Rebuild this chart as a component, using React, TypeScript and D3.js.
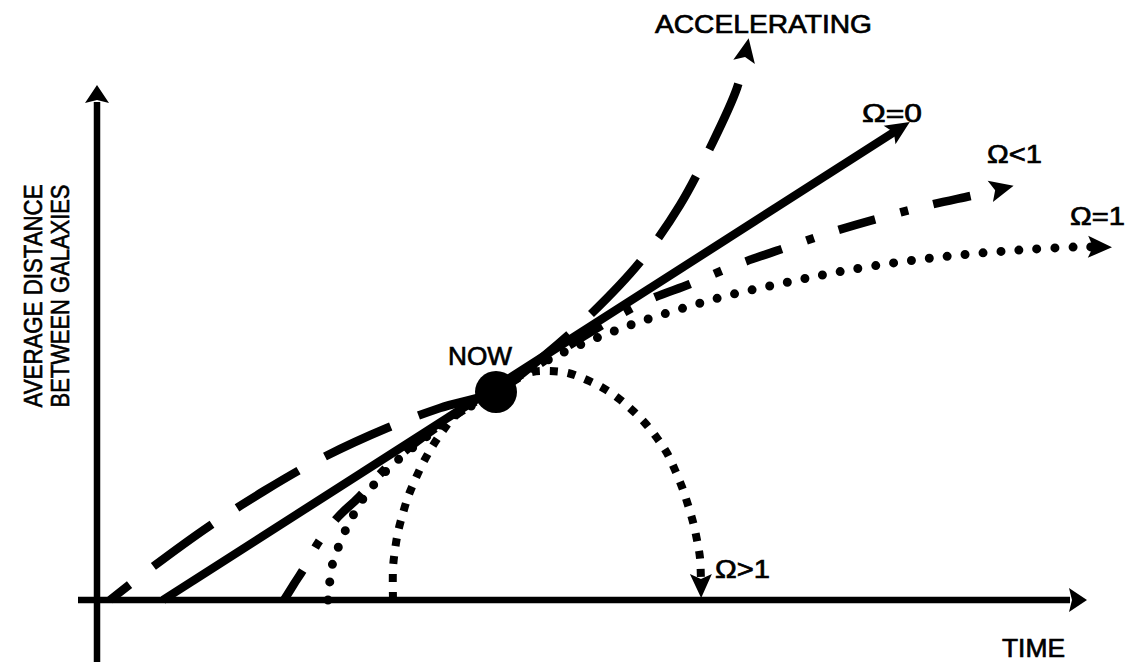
import React from "react";
import * as d3 from "d3";

type P = [number, number];

// time (x) / average distance (y) in arbitrary units
const accelerating: P[] = [
  [1.3, 0], [5.3, 3.1], [11.1, 7.3], [16.7, 10.9], [22.3, 14.1], [29.0, 17.2],
  [34.3, 19.2], [39.9, 20.9], [44.8, 24.5], [49.3, 28.5], [54.3, 33.8],
  [58.3, 39.5], [61.3, 45.2], [64.0, 51.2], [64.9, 54.8],
];

const omegaZero: P[] = [[6.6, 0], [80.1, 47.05]];

const omegaLess: P[] = [
  [18.7, 0], [19.7, 1.6], [20.6, 3.0], [22.1, 5.7], [24.1, 8.3], [26.1, 10.2],
  [28.3, 12.6], [30.8, 14.9], [34.3, 17.5], [37.3, 19.4], [39.9, 20.8],
  [46.3, 24.9], [54.5, 29.7], [59.3, 31.6], [63.9, 33.5], [68.8, 35.2],
  [73.5, 36.8], [78.3, 38.2], [83.3, 39.5], [87.8, 40.5], [90.3, 41.1],
];

const omegaOne: P[] = [
  [23.1, 0], [23.3, 2.0], [23.6, 3.8], [24.3, 5.7], [25.0, 7.3], [25.8, 8.8],
  [26.8, 10.4], [28.0, 11.9], [29.3, 13.3], [30.8, 14.6], [32.8, 16.2],
  [35.3, 18.2], [37.8, 19.6], [39.9, 20.8], [43.8, 23.3], [47.6, 25.2],
  [52.8, 27.3], [58.0, 29.0], [63.3, 30.5], [68.7, 31.7], [74.1, 32.8],
  [80.3, 33.8], [86.3, 34.5], [92.3, 35.0], [98.0, 35.3], [100.1, 35.3],
];

const omegaMore: P[] = [
  [29.6, 0], [29.6, 3.2], [29.8, 5.0], [30.1, 6.8], [30.6, 8.7], [31.1, 10.3],
  [31.8, 12.0], [32.6, 13.7], [33.5, 15.3], [34.5, 16.8], [35.6, 18.2],
  [37.5, 19.6], [39.9, 21.0], [41.8, 22.2], [43.5, 22.8], [45.3, 22.9],
  [47.1, 22.7], [49.0, 22.0], [50.6, 21.2], [52.1, 20.2], [53.5, 19.0],
  [54.8, 17.7], [56.0, 16.2], [57.0, 14.7], [57.8, 13.0], [58.5, 11.3],
  [59.1, 9.5], [59.6, 7.8], [60.0, 6.0], [60.3, 4.2], [60.4, 1.6],
];

const nowPoint: P = [39.9, 20.8];

const xAxisExtent = [-1.9, 97.3];
const yAxisExtent = [-6.2, 49.8];

const labels = [
  { text: "ACCELERATING", t: 55.8, d: 56.7, w: 217 },
  { text: "Ω=0", t: 76.5, d: 47.8, w: 60 },
  { text: "Ω<1", t: 89.0, d: 43.7, w: 55 },
  { text: "Ω=1", t: 97.3, d: 37.5, w: 55 },
  { text: "Ω>1", t: 61.8, d: 2.2, w: 55 },
  { text: "NOW", t: 35.1, d: 23.5, w: 64 },
  { text: "TIME", t: 90.5, d: -5.7, w: 63 },
];

const yLabelLines = ["AVERAGE DISTANCE", "BETWEEN GALAXIES"];

const xScale = d3.scaleLinear().domain([0, 100]).range([97, 1097]);
const yScale = d3.scaleLinear().domain([0, 60]).range([600, 0]);

const curve = d3
  .line<P>()
  .x((d) => xScale(d[0]))
  .y((d) => yScale(d[1]))
  .curve(d3.curveCatmullRom.alpha(0.5));

const straight = d3
  .line<P>()
  .x((d) => xScale(d[0]))
  .y((d) => yScale(d[1]));

const FONT = "'Liberation Sans', Arial, Helvetica, sans-serif";

export default function App() {
  return (
    <svg
      width={1129}
      height={664}
      style={{ position: "absolute", left: 0, top: 0, background: "#fff" }}
    >
      <defs>
        <marker
          id="arrow"
          markerUnits="userSpaceOnUse"
          viewBox="-5 -15 40 30"
          markerWidth={40}
          markerHeight={30}
          refX={10}
          refY={0}
          orient="auto"
        >
          <path d="M0,-11 L24,0 L0,11 L5,0 Z" fill="#000" />
        </marker>
        <marker
          id="axisArrow"
          markerUnits="userSpaceOnUse"
          viewBox="-5 -15 40 30"
          markerWidth={40}
          markerHeight={30}
          refX={1}
          refY={0}
          orient="auto"
        >
          <path d="M0,-12 L18,0 L0,12 L3,0 Z" fill="#000" />
        </marker>
      </defs>
      <rect x={0} y={0} width={1129} height={664} fill="#fff" />

      {/* axes */}
      <path
        d={straight([[xAxisExtent[0], 0], [xAxisExtent[1], 0]]) || ""}
        stroke="#000"
        strokeWidth={6.5}
        fill="none"
        markerEnd="url(#axisArrow)"
      />
      <path
        d={straight([[0, yAxisExtent[0]], [0, yAxisExtent[1]]]) || ""}
        stroke="#000"
        strokeWidth={6.5}
        fill="none"
        markerEnd="url(#axisArrow)"
      />

      {/* curves */}
      <path
        d={curve(omegaMore) || ""}
        stroke="#000"
        strokeWidth={8}
        fill="none"
        strokeDasharray="8 10"
        markerEnd="url(#arrow)"
      />
      <path
        d={curve(omegaOne) || ""}
        stroke="#000"
        strokeWidth={9}
        fill="none"
        strokeLinecap="round"
        strokeDasharray="0 18"
        markerEnd="url(#arrow)"
      />
      <path
        d={curve(omegaLess) || ""}
        stroke="#000"
        strokeWidth={8.5}
        fill="none"
        strokeDasharray="38 26 8 26"
        strokeDashoffset={3}
        markerEnd="url(#arrow)"
      />
      <path
        d={curve(accelerating) || ""}
        stroke="#000"
        strokeWidth={8.5}
        fill="none"
        strokeDasharray="72 30"
        strokeDashoffset={47}
        markerEnd="url(#arrow)"
      />
      <path
        d={straight(omegaZero) || ""}
        stroke="#000"
        strokeWidth={8.5}
        fill="none"
        markerEnd="url(#arrow)"
      />

      <circle cx={xScale(nowPoint[0])} cy={yScale(nowPoint[1])} r={21} fill="#000" />

      {labels.map((l) => (
        <text
          key={l.text}
          x={xScale(l.t)}
          y={yScale(l.d)}
          fontFamily={FONT}
          fontSize={26}
          textLength={l.w}
          lengthAdjust="spacingAndGlyphs"
          fill="#000"
          stroke="#000"
          strokeWidth={0.7}
        >
          {l.text}
        </text>
      ))}

      {yLabelLines.map((s, i) => (
        <text
          key={s}
          transform={`translate(${42 + i * 27},296) rotate(-90)`}
          textAnchor="middle"
          fontFamily={FONT}
          fontSize={25}
          textLength={223}
          lengthAdjust="spacingAndGlyphs"
          fill="#000"
          stroke="#000"
          strokeWidth={0.6}
        >
          {s}
        </text>
      ))}
    </svg>
  );
}
